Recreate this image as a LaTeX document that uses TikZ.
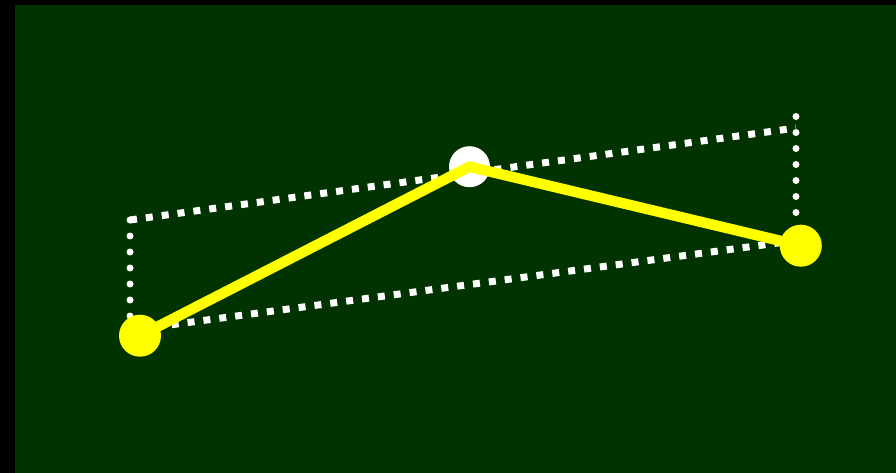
\documentclass[tikz,border=0pt]{standalone}
\usepackage{tikz}
\definecolor{bggreen}{HTML}{003300}
\definecolor{ylw}{HTML}{FFFF00}
\begin{document}
\begin{tikzpicture}[x=1pt,y=-1pt,
  dotline/.style={white,line width=7pt,line cap=round,dash pattern=on 0pt off 16pt},
  dashline/.style={white,line width=7pt,line cap=butt,dash pattern=on 7pt off 9pt},
  ydot/.style={circle,fill=ylw,draw=none,minimum size=42pt,inner sep=0pt},
  wdot/.style={circle,fill=white,draw=none,minimum size=41pt,inner sep=0pt},
  yline/.style={ylw,line width=10.5pt,line join=miter}]
\fill[black] (0,0) rectangle (896,473);
\useasboundingbox (0,0) rectangle (896,473);
\fill[bggreen] (15,5) rectangle (896,473);
% dotted frame
\coordinate (tl) at (130,220);
\coordinate (tr) at (796,128);
\coordinate (lb) at (130,320);
\coordinate (rt) at (796,116.5);
\coordinate (rb) at (796,216);
\coordinate (bl) at (140,329);
\coordinate (br) at (800,240);
\draw[dotline] (tl) -- (lb);
\draw[dotline] (rt) -- (rb);
\draw[dashline] (tl) -- (tr);
\draw[dashline] (bl) -- (br);
% points
\node[wdot] (m) at (469.5,166.7) {};
\node[ydot] (a) at (140,335.7) {};
\node[ydot] (c) at (800.8,245.7) {};
\draw[yline] (a.center) -- (m.center) -- (c.center);
\end{tikzpicture}
\end{document}
